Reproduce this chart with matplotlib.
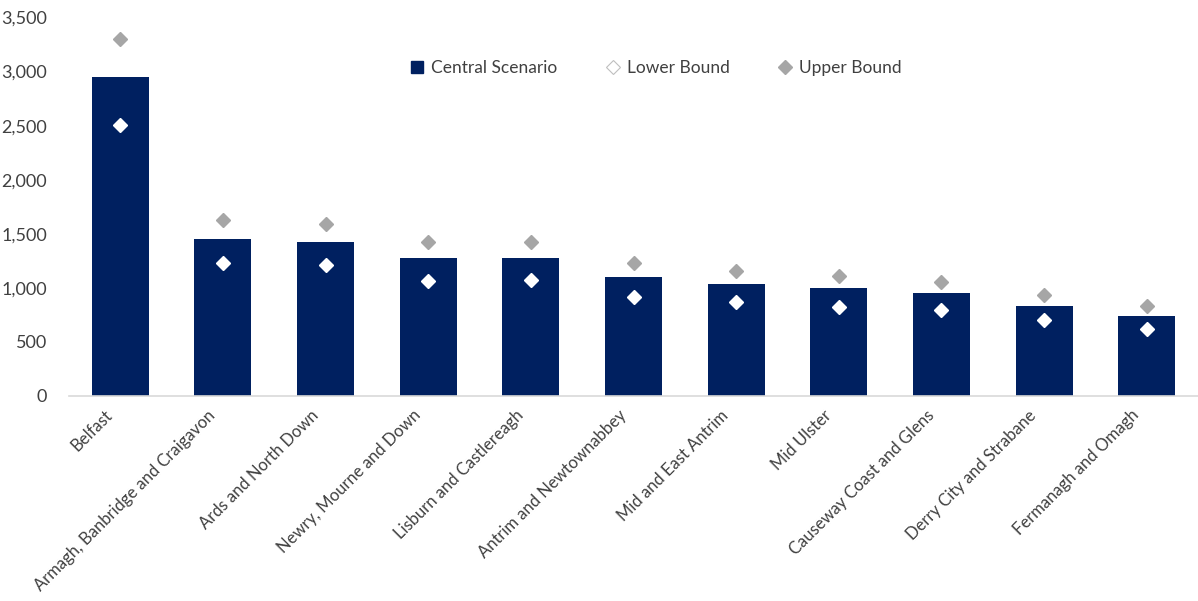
import numpy as np
import matplotlib
matplotlib.use("Agg")
import matplotlib.pyplot as plt
import matplotlib.transforms as mtransforms
from matplotlib.lines import Line2D

councils = ["Belfast", "Armagh, Banbridge and Craigavon", "Ards and North Down",
            "Newry, Mourne and Down", "Lisburn and Castlereagh", "Antrim and Newtownabbey",
            "Mid and East Antrim", "Mid Ulster", "Causeway Coast and Glens",
            "Derry City and Strabane", "Fermanagh and Omagh"]
central = [2950, 1455, 1422, 1280, 1274, 1101, 1036, 999, 953, 833, 743]
lower = [2510, 1227, 1212, 1064, 1073, 919, 866, 823, 796, 700, 623]
upper = [3300, 1628, 1591, 1422, 1422, 1230, 1159, 1110, 1058, 931, 830]

navy = "#002060"
grey = "#A6A6A6"
text_col = "#404040"

plt.rcParams["font.family"] = ["Lato", "DejaVu Sans"]

fig = plt.figure(figsize=(11.98, 6.01), dpi=100)
ax = fig.add_axes([69 / 1198, 1 - 396 / 601, 1 - 69 / 1198, (396 - 17.5) / 601])

x = np.arange(len(councils))
ax.bar(x, central, width=0.555, color=navy, zorder=2)
ax.plot(x, lower, linestyle="none", marker="D", markersize=7, color="white",
        markeredgecolor="white", zorder=3)
ax.plot(x, upper, linestyle="none", marker="D", markersize=7, color=grey,
        markeredgecolor=grey, zorder=3)

ax.set_xlim(-0.5, len(councils) - 0.5)
ax.set_ylim(0, 3500)
ax.set_yticks(np.arange(0, 3501, 500))
ax.set_yticklabels([f"{v:,}" for v in range(0, 3501, 500)])
ax.set_xticks(x)
ax.set_xticklabels(councils, rotation=45, ha="right", va="center", rotation_mode="anchor")

for s in ["top", "right", "left"]:
    ax.spines[s].set_visible(False)
ax.spines["bottom"].set_color("#D9D9D9")
ax.spines["bottom"].set_linewidth(1.2)
ax.tick_params(axis="y", length=0, labelsize=13, labelcolor=text_col, pad=16)
ax.tick_params(axis="x", length=0, labelsize=12, labelcolor=text_col, pad=12)

# nudge the slanted category labels left so they end just short of each bar
shift = mtransforms.ScaledTranslation(-10 / 100, 0, fig.dpi_scale_trans)
for lbl in ax.get_xticklabels():
    lbl.set_transform(lbl.get_transform() + shift)

handles = [
    Line2D([], [], linestyle="none", marker="s", markersize=8, color=navy),
    Line2D([], [], linestyle="none", marker="D", markersize=7, markerfacecolor="white",
           markeredgecolor="#BFBFBF", markeredgewidth=0.8),
    Line2D([], [], linestyle="none", marker="D", markersize=7, color=grey),
]
fig.legend(handles, ["Central Scenario", "Lower Bound", "Upper Bound"],
           loc="center", bbox_to_anchor=(656 / 1198, 1 - 68 / 601), ncol=3,
           frameon=False, fontsize=12.5, labelcolor=text_col, handlelength=0.8,
           handletextpad=0.4, columnspacing=2.8)

fig.savefig("out.png", dpi=100)
